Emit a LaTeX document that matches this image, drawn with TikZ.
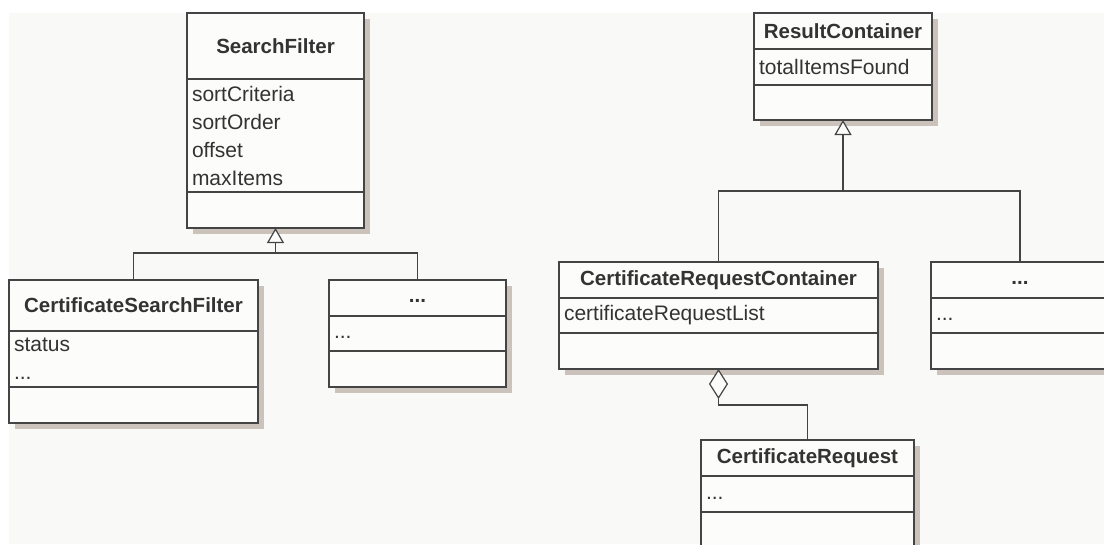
\documentclass[tikz,border=0pt]{standalone}
\usepackage{fontspec}
\setmainfont{Liberation Sans}
\usetikzlibrary{positioning,arrows.meta,shadows}
\definecolor{linec}{HTML}{444444}
\definecolor{textc}{HTML}{333333}
\definecolor{boxc}{HTML}{FCFCFB}
\definecolor{bgc}{HTML}{F9F9F7}
\definecolor{shadowc}{HTML}{CAC2BB}
\begin{document}
\begin{tikzpicture}[x=1pt,y=-1pt,
    comp/.style={draw=linec, line width=1.8pt, fill=boxc, text=textc, outer sep=0pt,
      inner xsep=5pt, inner ysep=0pt,
      drop shadow={shadow xshift=6pt, shadow yshift=-6pt, fill=shadowc, opacity=1}},
    title/.style={comp, font=\fontsize{20.5}{25}\selectfont\bfseries, align=center},
    attrs/.style={comp, font=\fontsize{21}{28}\selectfont, align=left},
    line/.style={draw=linec, line width=1.8pt},
    gen/.style={line, -{Triangle[length=15pt, width=17pt, fill=boxc, line width=1.2pt]}},
    agg/.style={line, {Diamond[length=30pt, width=19pt, fill=boxc, line width=1.2pt]}-}]
    \useasboundingbox (0,0) rectangle (1104,544);
    \clip (0,0) rectangle (1104,544);
    % Background
    \fill[white] (0,0) rectangle (1104,544);
    \fill[bgc] (9,13) rectangle (1104,544);
    % SearchFilter
    \node[title, text width=167pt, minimum height=66pt, anchor=north west] (sf) at (187,13) {SearchFilter};
    \node[attrs, text width=167pt, minimum height=113pt, below=0pt of sf] (sfattr) {sortCriteria\\sortOrder\\offset\\maxItems};
    \node[attrs, text width=167pt, minimum height=36pt, below=0pt of sfattr] (sfop) {};
    % CertificateSearchFilter
    \node[title, text width=239pt, minimum height=51pt, anchor=north west] (csf) at (9,280) {CertificateSearchFilter};
    \node[attrs, text width=239pt, minimum height=56pt, below=0pt of csf] (csfattr) {status\\...};
    \node[attrs, text width=239pt, minimum height=36pt, below=0pt of csfattr] (csfop) {};
    % other filter
    \node[title, text width=167pt, minimum height=36pt, anchor=north west] (oth) at (329,280) {\vphantom{Ag}...};
    \node[attrs, text width=167pt, minimum height=35pt, below=0pt of oth] (othattr) {\vphantom{Ag}...};
    \node[attrs, text width=167pt, minimum height=36pt, below=0pt of othattr] (othop) {};
    % ResultContainer
    \node[title, text width=168pt, minimum height=36pt, anchor=north west] (rc) at (754,13) {ResultContainer};
    \node[attrs, text width=168pt, minimum height=36pt, below=0pt of rc] (rcattr) {totalItemsFound};
    \node[attrs, text width=168pt, minimum height=35pt, below=0pt of rcattr] (rcop) {};
    % CertificateRequestContainer
    \node[title, text width=309pt, minimum height=36pt, anchor=north west] (crc) at (559,262) {CertificateRequestContainer};
    \node[attrs, text width=309pt, minimum height=35pt, below=0pt of crc] (crcattr) {certificateRequestList};
    \node[attrs, text width=309pt, minimum height=36pt, below=0pt of crcattr] (crcop) {};
    % other container
    \node[title, text width=168pt, minimum height=36pt, anchor=north west] (oth2) at (931,262) {\vphantom{Ag}...};
    \node[attrs, text width=168pt, minimum height=35pt, below=0pt of oth2] (oth2attr) {\vphantom{Ag}...};
    \node[attrs, text width=168pt, minimum height=36pt, below=0pt of oth2attr] (oth2op) {};
    % CertificateRequest
    \node[title, text width=203pt, minimum height=36pt, anchor=north west] (cr) at (701,440) {CertificateRequest};
    \node[attrs, text width=203pt, minimum height=36pt, below=0pt of cr] (crattr) {\vphantom{Ag}...};
    \node[attrs, text width=203pt, minimum height=36pt, below=0pt of crattr] (crop) {};
    % Connectors
    \coordinate[below=25pt of sfop] (sfj);
    \coordinate[below=71pt of rcop] (rcj);
    \coordinate[above=35pt of cr] (crj);
    \draw[line] (csf.north) |- (sfj) -| (oth.north);
    \draw[gen] (sfj) -- (sfop.south);
    \draw[line] (crc.north) |- (rcj) -| (oth2.north);
    \draw[gen] (rcj) -- (rcop.south);
    \draw[agg] (crcop.south) |- (crj) -- (cr.north);
\end{tikzpicture}
\end{document}
